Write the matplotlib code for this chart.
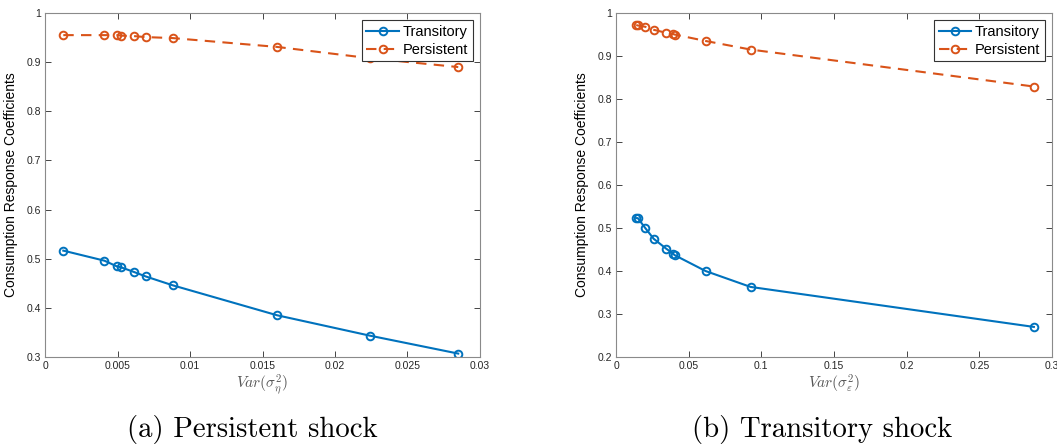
import numpy as np
import matplotlib.pyplot as plt

# values
var_eta = [0.00126, 0.0041, 0.00494, 0.00524, 0.00614, 0.00694, 0.0088, 0.0160, 0.0224, 0.0285]
trans_a = [0.5165, 0.496, 0.4846, 0.4826, 0.473, 0.464, 0.446, 0.385, 0.3435, 0.307]
pers_a = [0.955, 0.955, 0.955, 0.954, 0.953, 0.951, 0.949, 0.931, 0.908, 0.890]

var_eps = [0.0139, 0.0150, 0.0201, 0.0259, 0.0345, 0.0394, 0.0403, 0.0616, 0.0926, 0.2875]
trans_b = [0.523, 0.523, 0.500, 0.475, 0.452, 0.440, 0.437, 0.400, 0.363, 0.270]
pers_b = [0.972, 0.971, 0.968, 0.961, 0.954, 0.951, 0.950, 0.935, 0.915, 0.829]

blue = '#0072BD'
orange = '#D95319'
grey = '#262626'

plt.rcParams['font.family'] = ['Liberation Sans', 'DejaVu Sans']
plt.rcParams['mathtext.fontset'] = 'cm'

fig = plt.figure(figsize=(10.57, 4.47), dpi=100)

panels = [
    ([0.0426, 0.2013, 0.4115, 0.7696], var_eta, trans_a, pers_a, (0, 0.03), (0.3, 1.0),
     np.arange(0, 0.0301, 0.005), ['0', '0.005', '0.01', '0.015', '0.02', '0.025', '0.03'],
     r'$Var(\sigma_\eta^2)$', '(a) Persistent shock', 0.2385),
    ([0.5828, 0.2013, 0.4125, 0.7696], var_eps, trans_b, pers_b, (0, 0.3), (0.2, 1.0),
     np.arange(0, 0.301, 0.05), ['0', '0.05', '0.1', '0.15', '0.2', '0.25', '0.3'],
     r'$Var(\sigma_\varepsilon^2)$', '(b) Transitory shock', 0.7775),
]

for rect, x, tr, pe, xl, yl, xt, xtl, xlab, cap, capx in panels:
    ax = fig.add_axes(rect)
    ax.plot(x, tr, '-o', color=blue, lw=1.5, ms=5.5, mfc='none', mew=1.4, label='Transitory')
    ax.plot(x, pe, '--o', color=orange, lw=1.5, ms=5.5, mfc='none', mew=1.4,
            dashes=(5, 3.5), label='Persistent')
    ax.set_xlim(xl)
    ax.set_ylim(yl)
    ax.set_xticks(xt)
    ax.set_xticklabels(xtl)
    yt = np.round(np.arange(yl[0], 1.001, 0.1), 1)
    ax.set_yticks(yt)
    ax.set_yticklabels(['1' if v == 1 else '%g' % v for v in yt])
    ax.tick_params(direction='in', top=True, right=True, length=4, width=0.6,
                   labelsize=7.5, colors=grey, labelcolor=grey, pad=3)
    for s in ax.spines.values():
        s.set_color('#8a8a8a')
        s.set_linewidth(0.8)
    ax.set_xlabel(xlab, fontsize=11, color='#555555', labelpad=1)
    ax.set_ylabel('Consumption Response Coefficients', fontsize=10, color='black', labelpad=6)
    leg = ax.legend(loc='upper right', fontsize=10.5, fancybox=False, framealpha=1,
                    edgecolor='#333333', borderaxespad=0.5, handlelength=2.2,
                    handletextpad=0.3, borderpad=0.3, labelspacing=0.3)
    leg.get_frame().set_linewidth(0.8)
    fig.text(capx, 0.04, cap, fontsize=20.7, fontname='cmr10', ha='center', va='center')

fig.savefig('out.png', dpi=100)
